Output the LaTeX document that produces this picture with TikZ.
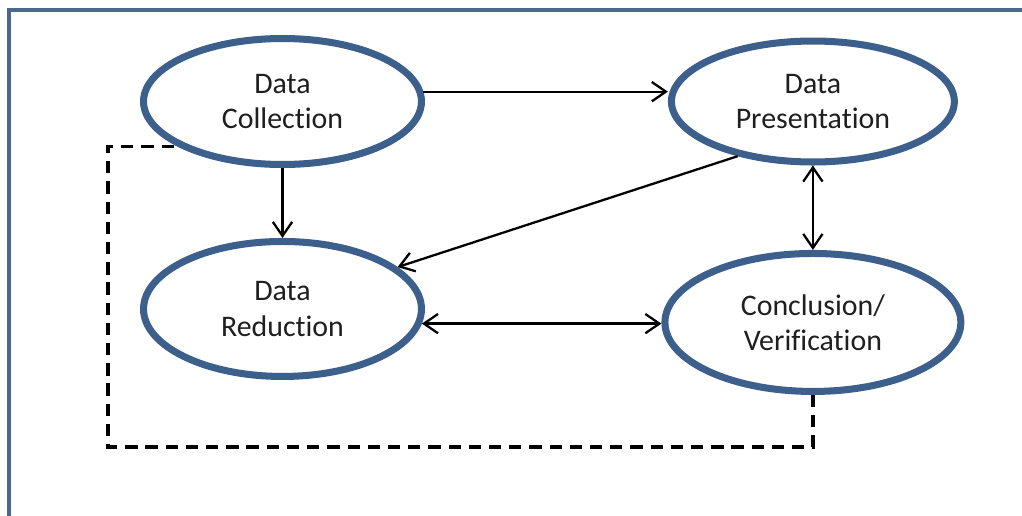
\documentclass[tikz,border=0pt]{standalone}
\usepackage{fontspec}
\setmainfont{Carlito}[Ligatures=NoCommon]
\usetikzlibrary{shapes.geometric,arrows.meta}
\definecolor{ringblue}{RGB}{60,95,140}
\definecolor{framegray}{RGB}{75,104,142}
\tikzstyle{stage} = [ellipse, draw=ringblue, line width=4pt, fill=white,
    align=center, inner sep=0pt, text=black!88,
    font=\fontsize{17}{20}\selectfont]
\tikzstyle{flow} = [draw, line width=1.3pt]
\tikzstyle{feedback} = [draw, line width=1.9pt, dash pattern=on 7pt off 4.5pt]

\begin{document}
\begin{tikzpicture}[x=0.02cm, y=-0.02cm, node distance=2cm,
    >={Straight Barb[length=8pt,width=11pt]}]

    % Frame
    \useasboundingbox (0,0) rectangle (1022,515);
    \clip (0,0) rectangle (1022,515);
    \draw [framegray, line width=2.2pt] (9,10) rectangle (1060,560);

    % Nodes
    \node [stage, minimum width=5.56cm, minimum height=2.52cm] (collection) at (282.5,101.5) {Data\\Collection};
    \node [stage, right of=collection, node distance=10.61cm, minimum width=5.66cm, minimum height=2.42cm] (presentation) {Data\\Presentation};
    \node [stage, below of=collection, node distance=4.15cm, minimum width=5.56cm, minimum height=2.7cm] (reduction) {Data\\Reduction};
    \node [stage, below of=presentation, node distance=4.42cm, minimum width=5.92cm, minimum height=2.76cm] (conclusion) {Conclusion/\\Verification};
    \coordinate (loop) at (108,447);

    % Connections
    \draw [flow, ->] (collection.4) -- (collection.4 -| presentation.west);
    \draw [flow, ->] (collection.south) -- (reduction.north);
    \draw [flow, ->] (presentation.216) -- (reduction.20);
    \draw [flow, <->] (presentation.south) -- (presentation.south |- conclusion.north);
    \draw [flow, <->] (reduction.-6) -- (reduction.-6 -| conclusion.west);
    \draw [feedback] (conclusion.south) |- (loop) |- (collection.203.5);

\end{tikzpicture}
\end{document}
